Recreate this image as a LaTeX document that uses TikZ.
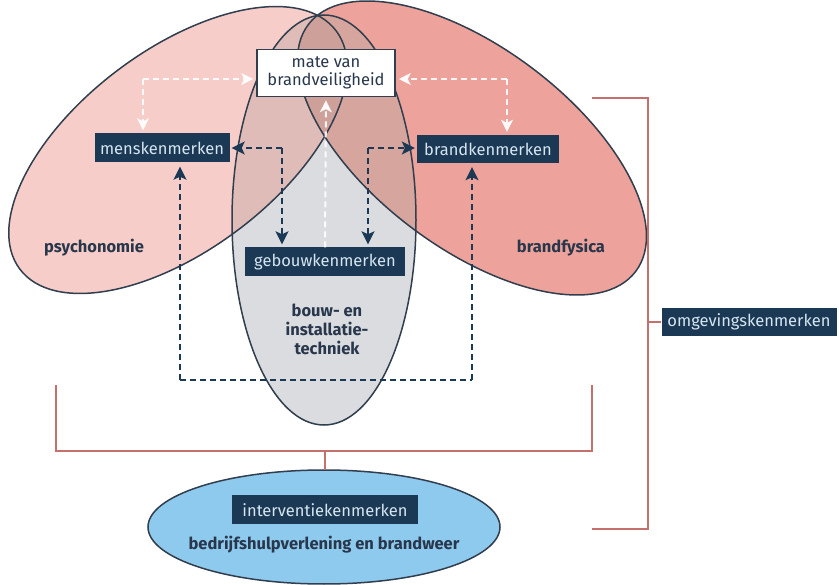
\documentclass[tikz,border=0pt]{standalone}
\usepackage{fontspec}
\setmainfont{Fira Sans}
\usetikzlibrary{arrows.meta}
\definecolor{navy}{RGB}{27,56,84}
\definecolor{outl}{RGB}{48,62,78}
\definecolor{cL}{RGB}{246,205,201}
\definecolor{cR}{RGB}{237,162,155}
\definecolor{cG}{RGB}{218,220,224}
\definecolor{cLR}{RGB}{228,168,162}
\definecolor{cLG}{RGB}{224,188,184}
\definecolor{cRG}{RGB}{214,165,158}
\definecolor{cLRG}{RGB}{206,160,154}
\definecolor{lblue}{RGB}{142,201,238}
\definecolor{brk}{RGB}{196,112,108}
\definecolor{boxtxt}{RGB}{214,230,240}
\definecolor{lbl}{RGB}{40,55,75}
\tikzset{
  darkbox/.style={fill=navy, text=boxtxt, inner sep=0pt, font=\fontsize{16.5}{19}\selectfont},
  lbltext/.style={text=lbl, font=\bfseries\fontsize{16.5}{19}\selectfont, align=center},
  bracket/.style={draw=brk, line width=1.6pt},
  darr/.style={draw=navy, line width=2pt, dash pattern=on 6pt off 4pt, -{Stealth[length=13pt,width=13pt,inset=3pt]}},
  dline/.style={draw=navy, line width=2pt, dash pattern=on 6pt off 4pt},
  warr/.style={draw=white, line width=2pt, opacity=0.9, dash pattern=on 6pt off 4pt, -{Stealth[length=12pt,width=12pt,inset=3pt]}},
  outline/.style={draw=outl, line width=1.5pt},
  elL/.style={rotate around={37:(178,150)}},
  elR/.style={rotate around={-37:(472,148)}}
}
\def\pathL{(178,150) ellipse [x radius=198pt, y radius=100pt]}
\def\pathR{(472,148) ellipse [x radius=205pt, y radius=100pt]}
\def\pathG{(324,220) ellipse [x radius=92pt, y radius=205pt]}
\begin{document}
\begin{tikzpicture}[x=1pt,y=-1pt]
\useasboundingbox (0,0) rectangle (839,585);
% region fills
\fill[cL, elL] \pathL;
\fill[cR, elR] \pathR;
\begin{scope}
  \clip[elL] \pathL;
  \fill[cLR, elR] \pathR;
\end{scope}
\fill[cG] \pathG;
\begin{scope}
  \clip[elL] \pathL;
  \fill[cLG] \pathG;
\end{scope}
\begin{scope}
  \clip[elR] \pathR;
  \fill[cRG] \pathG;
\end{scope}
\begin{scope}
  \clip[elL] \pathL;
  \clip[elR] \pathR;
  \fill[cLRG] \pathG;
\end{scope}
% outlines
\draw[outline, elL] \pathL;
\draw[outline, elR] \pathR;
\draw[outline] \pathG;
% blue ellipse
\draw[outline, fill=lblue] (324,527) ellipse [x radius=176pt, y radius=57pt];

% nodes
\node[darkbox, minimum width=135pt, minimum height=29pt] (mens) at (162,148) {menskenmerken};
\node[darkbox, minimum width=142pt, minimum height=28pt] (brand) at (488,149) {brandkenmerken};
\node[darkbox, minimum width=160pt, minimum height=29pt] (geb) at (325,262) {gebouwkenmerken};
\node[darkbox, minimum width=186pt, minimum height=29pt] (interv) at (325,510) {interventiekenmerken};
\node[darkbox, minimum width=175pt, minimum height=28pt] (omg) at (749,322) {omgevingskenmerken};
\node[draw=outl, line width=1.5pt, fill=white, text=lbl, minimum width=138pt, minimum height=47pt, inner sep=0pt, align=center, font=\fontsize{16.5}{17.5}\selectfont] (mate) at (326,73) {mate van\\brandveiligheid};

\node[lbltext] (psy) at (94,248) {psychonomie};
\node[lbltext] (bfy) at (561,248) {brandfysica};
\node[lbltext] (bouw) at (327,329) {bouw- en\\installatie-\\techniek};
\node[lbltext] (bhv) at (324,545) {bedrijfshulpverlening en brandweer};

% white dashed arrows
\coordinate (wl) at (143,79);
\coordinate (wr) at (507,79);
\draw[warr, shorten >=3pt] (wl) -- (mate.west |- wl);
\draw[warr, shorten >=3pt] (wl) -- (wl |- mens.north);
\draw[warr, shorten >=3pt] (wr) -- (mate.east |- wr);
\draw[warr, shorten >=3pt] (wr) -- (wr |- brand.north);
\draw[warr, shorten >=3pt] (geb.north) -- (mate.south);

% dark dashed arrows
\coordinate (cl) at (282,148);
\coordinate (cr) at (368,148);
\draw[darr, shorten >=2pt] (cl) -- (mens.east |- cl);
\draw[darr, shorten >=3pt] (cl) -- (cl |- geb.north);
\draw[darr, shorten >=2pt] (cr) -- (brand.west |- cr);
\draw[darr, shorten >=3pt] (cr) -- (cr |- geb.north);
\coordinate (bl) at (180,380);
\coordinate (br) at (472,380);
\draw[dline] (bl) -- (br);
\draw[darr, shorten >=4pt] (bl) -- (bl |- mens.south);
\draw[darr, shorten >=4pt] (br) -- (br |- brand.south);

% brackets
\coordinate (b1) at (56,385);
\coordinate (b2) at (592,385);
\draw[bracket] (b1) -- (56,451) -- (592,451) -- (b2);
\draw[bracket] (325,451) -- (interv |- 0,470);
\coordinate (r1) at (592,98);
\coordinate (r2) at (592,529);
\draw[bracket] (r1) -- (648,98) -- (648,529) -- (r2);
\draw[bracket] (648,322) -- (omg.west);
\end{tikzpicture}
\end{document}
